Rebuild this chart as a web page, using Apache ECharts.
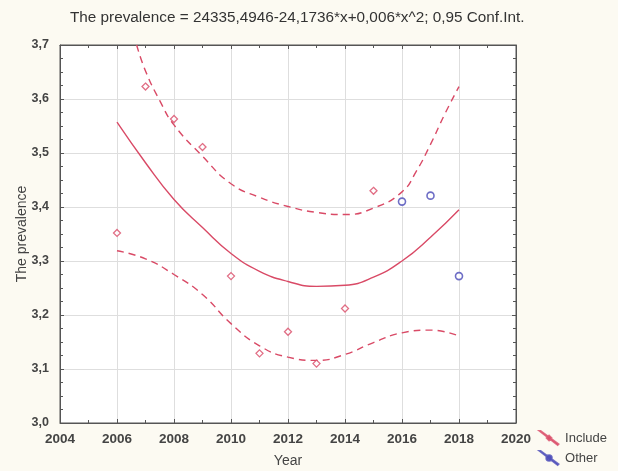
<!DOCTYPE html>
<html>
<head>
<meta charset="utf-8">
<script src="https://cdn.jsdelivr.net/npm/echarts@6/dist/echarts.min.js"></script>
<style>
html,body{margin:0;padding:0;background:#fcfaf2;}
#c{width:618px;height:471px;}
</style>
</head>
<body>
<div id="c"></div>
<script>
const titleText = 'The prevalence = 24335,4946-24,1736*x+0,006*x^2; 0,95 Conf.Int.';
const includeYears = [2006, 2007, 2008, 2009, 2010, 2011, 2012, 2013, 2014, 2015];
const includeVals  = [3.352, 3.623, 3.563, 3.511, 3.272, 3.129, 3.169, 3.110, 3.212, 3.430];
const otherYears = [2016, 2017, 2018];
const otherVals  = [3.410, 3.421, 3.272];
const fitYears = [2006, 2007, 2008, 2009, 2010, 2011, 2012, 2013, 2014, 2015, 2016, 2017, 2018];
const fitVals  = [3.557, 3.482, 3.414, 3.362, 3.314, 3.281, 3.262, 3.253, 3.255, 3.270, 3.300, 3.344, 3.395];
const upperYears = [2006.69, 2007, 2007.5, 2008, 2009, 2010, 2011, 2012, 2013, 2014, 2015, 2016, 2016.5, 2017, 2017.5, 2018];
const upperVals  = [3.700, 3.652, 3.597, 3.552, 3.494, 3.443, 3.418, 3.401, 3.390, 3.386, 3.398, 3.428, 3.466, 3.516, 3.572, 3.623];
const lowerYears = [2006, 2007, 2008, 2009, 2010, 2011, 2012, 2013, 2014, 2015, 2016, 2017, 2018];
const lowerVals  = [3.319, 3.304, 3.275, 3.238, 3.184, 3.143, 3.122, 3.116, 3.127, 3.149, 3.167, 3.172, 3.161];
const xTicks = [2004, 2020, 2];
const yTicks = [3.0, 3.7, 0.1];

const RED = '#d94a66';
const BLUE = '#4a4ab8';
const zip = (a, b) => a.map((v, i) => [v, b[i]]);
const fmtY = v => v.toFixed(1).replace('.', ',');
const fmtX = v => String(Math.round(v));

const chart = echarts.init(document.getElementById('c'));
const axisLine = {show: true, lineStyle: {color: '#555', width: 1}};
const axisTick = {show: true, inside: true, length: 4, lineStyle: {color: '#555'}};
const fontFam = '"Liberation Sans", Arial, sans-serif';
chart.setOption({
  backgroundColor: '#fcfaf2',
  animation: false,
  textStyle: {fontFamily: fontFam},
  title: {
    text: titleText, left: 65, top: 5,
    textStyle: {fontSize: 15.3, fontWeight: 'normal', color: '#333', fontFamily: fontFam}
  },
  grid: {left: 60, right: 102, top: 45, bottom: 48, show: true, backgroundColor: '#ffffff', borderColor: '#555', borderWidth: 1, outerBoundsMode: 'none', containLabel: false},
  legend: {
    orient: 'vertical', right: 6, bottom: 0, itemGap: 4,
    itemWidth: 22, itemHeight: 14,
    textStyle: {fontSize: 13, color: '#444', fontFamily: fontFam},
    data: [
      {name: 'Include', icon: 'path://M0,0 L1,0 L24,17 L23,18 Z M12,6 L15,9 L12,12 L9,9 Z', itemStyle: {color: RED}},
      {name: 'Other', icon: 'path://M0,0 L1,0 L24,17 L23,18 Z M12,5.5 A3.5,3.5 0 1 1 11.99,5.5 Z', itemStyle: {color: BLUE}}
    ]
  },
  xAxis: [{
    type: 'value', min: xTicks[0], max: xTicks[1], interval: xTicks[2],
    name: 'Year', nameLocation: 'middle', nameGap: 31, nameMoveOverlap: false,
    nameTextStyle: {fontSize: 14, color: '#444'},
    axisLabel: {fontSize: 13.5, color: '#444', fontWeight: 'bold', margin: 9, formatter: fmtX},
    splitLine: {show: true, lineStyle: {color: '#dedede'}},
    minorTick: {show: true, splitNumber: 2, length: 3, lineStyle: {color: '#555'}},
    axisLine: axisLine, axisTick: axisTick
  }, {
    type: 'value', position: 'top', min: xTicks[0], max: xTicks[1], interval: xTicks[2],
    axisLabel: {show: false}, splitLine: {show: false},
    minorTick: {show: true, splitNumber: 2, length: 3, lineStyle: {color: '#555'}},
    axisLine: axisLine, axisTick: axisTick
  }],
  yAxis: [{
    type: 'value', min: yTicks[0], max: yTicks[1], interval: yTicks[2],
    name: 'The prevalence', nameLocation: 'middle', nameGap: 31, nameMoveOverlap: false,
    nameTextStyle: {fontSize: 14, color: '#444'},
    axisLabel: {fontSize: 12.5, color: '#444', fontWeight: 'bold', margin: 11, formatter: fmtY},
    splitLine: {show: true, lineStyle: {color: '#dedede'}},
    minorTick: {show: true, splitNumber: 4, length: 3, lineStyle: {color: '#555'}},
    axisLine: axisLine, axisTick: axisTick
  }, {
    type: 'value', position: 'right', min: yTicks[0], max: yTicks[1], interval: yTicks[2],
    axisLabel: {show: false}, splitLine: {show: false},
    minorTick: {show: true, splitNumber: 4, length: 3, lineStyle: {color: '#555'}},
    axisLine: axisLine, axisTick: axisTick
  }],
  series: [
    {name: 'fit', type: 'line', data: zip(fitYears, fitVals), smooth: 0.5, showSymbol: false,
     lineStyle: {color: RED, width: 1.4}, silent: true, z: 3},
    {name: 'upper', type: 'line', data: zip(upperYears, upperVals), smooth: 0.5, showSymbol: false,
     lineStyle: {color: RED, width: 1.4, type: [7, 5]}, silent: true, z: 3},
    {name: 'lower', type: 'line', data: zip(lowerYears, lowerVals), smooth: 0.5, showSymbol: false,
     lineStyle: {color: RED, width: 1.4, type: [7, 5]}, silent: true, z: 3},
    {name: 'Include', type: 'scatter', data: zip(includeYears, includeVals), symbol: 'diamond', symbolSize: 7,
     itemStyle: {color: '#ffffff', borderColor: RED, borderWidth: 1.3}, z: 4},
    {name: 'Other', type: 'scatter', data: zip(otherYears, otherVals), symbol: 'circle', symbolSize: 7,
     itemStyle: {color: '#ffffff', borderColor: BLUE, borderWidth: 1.6}, z: 4}
  ]
});
</script>
</body>
</html>
